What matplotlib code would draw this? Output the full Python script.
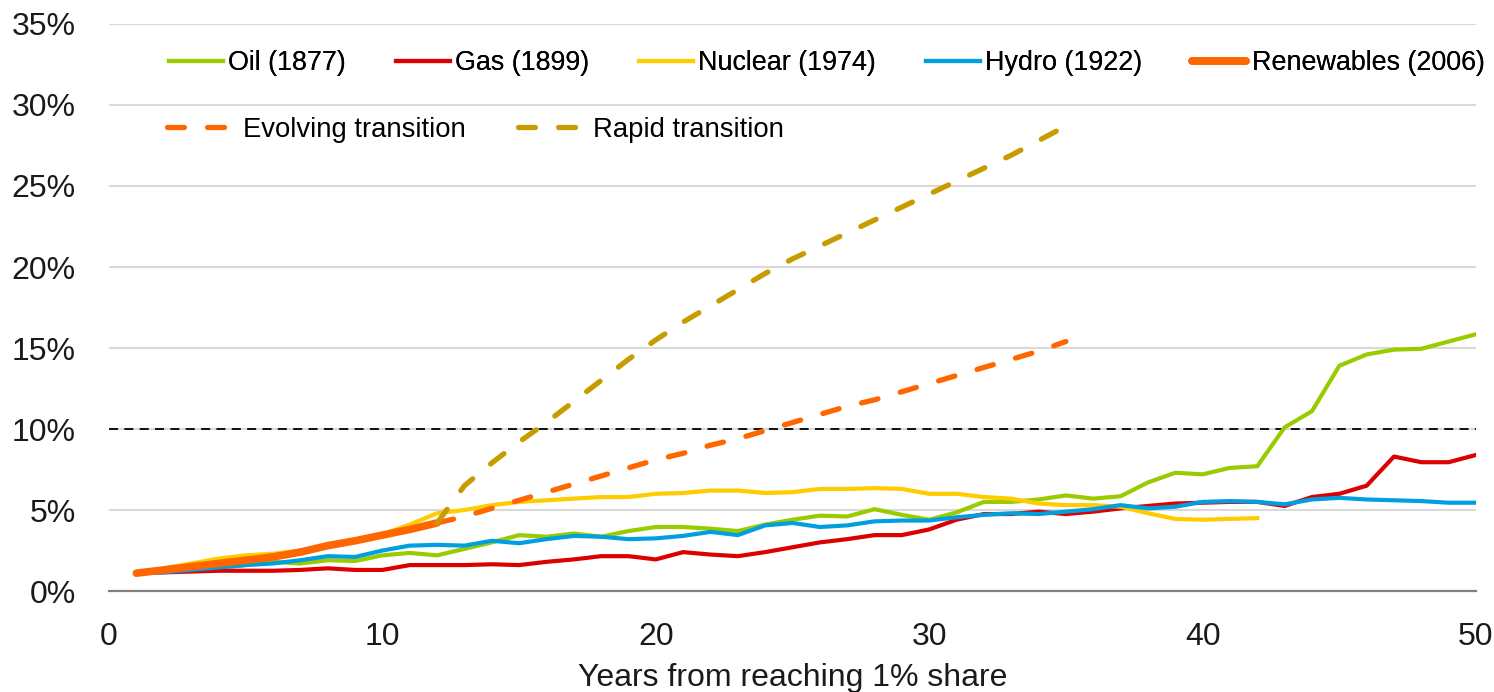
import matplotlib
matplotlib.use('Agg')
import matplotlib.pyplot as plt

# years since each source reached 1% share
years = list(range(1, 51))

oil = [1.1, 1.2, 1.3, 1.45, 1.6, 1.8, 1.7, 1.9, 1.85, 2.2,
       2.35, 2.2, 2.6, 3.0, 3.45, 3.35, 3.55, 3.35, 3.7, 3.95,
       3.95, 3.85, 3.7, 4.1, 4.4, 4.65, 4.6, 5.05, 4.7, 4.4,
       4.85, 5.5, 5.5, 5.65, 5.9, 5.7, 5.85, 6.7, 7.3, 7.2,
       7.6, 7.7, 10.1, 11.1, 13.9, 14.6, 14.9, 14.95, 15.4, 15.85]
gas = [1.1, 1.15, 1.2, 1.25, 1.25, 1.25, 1.3, 1.4, 1.3, 1.3,
       1.6, 1.6, 1.6, 1.65, 1.6, 1.8, 1.95, 2.15, 2.15, 1.95,
       2.4, 2.25, 2.15, 2.4, 2.7, 3.0, 3.2, 3.45, 3.45, 3.8,
       4.4, 4.75, 4.75, 4.9, 4.75, 4.9, 5.1, 5.25, 5.4, 5.45,
       5.5, 5.5, 5.25, 5.8, 6.0, 6.5, 8.3, 7.95, 7.95, 8.4]
nuclear = [1.1, 1.4, 1.7, 2.0, 2.2, 2.3, 2.5, 2.8, 3.1, 3.5,
           4.1, 4.8, 5.0, 5.3, 5.5, 5.6, 5.7, 5.8, 5.8, 6.0,
           6.05, 6.2, 6.2, 6.05, 6.1, 6.3, 6.3, 6.35, 6.3, 6.0,
           6.0, 5.8, 5.7, 5.4, 5.3, 5.3, 5.2, 4.8, 4.45, 4.4,
           4.45, 4.5]
hydro = [1.1, 1.15, 1.3, 1.45, 1.6, 1.7, 1.9, 2.15, 2.1, 2.5,
         2.8, 2.85, 2.8, 3.1, 2.95, 3.2, 3.4, 3.35, 3.2, 3.25,
         3.4, 3.65, 3.45, 4.05, 4.2, 3.95, 4.05, 4.3, 4.35, 4.35,
         4.55, 4.7, 4.8, 4.75, 4.9, 5.05, 5.3, 5.1, 5.2, 5.5,
         5.55, 5.5, 5.35, 5.65, 5.75, 5.65, 5.6, 5.55, 5.45, 5.45]
renewables = [1.1, 1.3, 1.5, 1.7, 1.9, 2.1, 2.4, 2.8, 3.1, 3.45, 3.8, 4.2]

# scenario projections, years 12..35
proj_years = list(range(12, 36))
evolving = [4.2, 4.6, 5.1, 5.6, 6.1, 6.6, 7.1, 7.6, 8.1, 8.5, 9.0, 9.4,
            9.9, 10.4, 10.9, 11.4, 11.8, 12.3, 12.8, 13.3, 13.8, 14.3, 14.8, 15.4]
rapid = [4.2, 6.5, 7.9, 9.2, 10.4, 11.7, 13.0, 14.3, 15.5, 16.6, 17.6, 18.6,
         19.6, 20.5, 21.3, 22.1, 22.9, 23.7, 24.5, 25.3, 26.1, 26.9, 27.8, 28.7]

threshold = 10

plt.rcParams['font.family'] = ['Liberation Sans', 'DejaVu Sans']

fig = plt.figure(figsize=(14.94, 6.92), dpi=100)
ax = fig.add_axes([0.07296, 0.14595, 0.91499, 0.81937])

lw = 3.0
ax.plot(years, oil, color='#99cc00', lw=lw, label='Oil (1877)')
ax.plot(years, gas, color='#dd0000', lw=lw, label='Gas (1899)')
ax.plot(years[:len(nuclear)], nuclear, color='#ffcc00', lw=lw, label='Nuclear (1974)')
ax.plot(years, hydro, color='#00a0e0', lw=lw, label='Hydro (1922)')
ax.plot(years[:len(renewables)], renewables, color='#ff6600', lw=5.5,
        solid_capstyle='round', label='Renewables (2006)')
ax.plot(proj_years, evolving, color='#ff6600', lw=3.8, dash_capstyle='round',
        dashes=(3.2, 4.4), label='Evolving transition')
ax.plot(proj_years, rapid, color='#c89b00', lw=3.8, dash_capstyle='round',
        dashes=(3.2, 4.4), label='Rapid transition')

ax.axhline(threshold, color='black', lw=1.3, dashes=(5, 3.5), zorder=1.5)

ax.set_xlim(0, 50)
ax.set_ylim(0, 35)
ax.set_xticks(range(0, 51, 10))
ax.set_yticks(range(0, 36, 5))
ax.set_yticklabels(['{}%'.format(v) for v in range(0, 36, 5)])
ax.grid(axis='y', color='#d9d9d9', lw=1.5)
ax.set_axisbelow(True)
for s in ['top', 'right', 'left']:
    ax.spines[s].set_visible(False)
ax.spines['bottom'].set_color('#808080')
ax.spines['bottom'].set_linewidth(1.6)
ax.tick_params(axis='both', length=0, labelsize=23, colors='#1a1a1a')
ax.tick_params(axis='y', pad=24)
ax.tick_params(axis='x', pad=22)
ax.set_xlabel('Years from reaching 1% share', fontsize=23, color='#1a1a1a', labelpad=8)

handles, labels = ax.get_legend_handles_labels()
leg1 = fig.legend(handles[:5], labels[:5], ncol=5, loc='center left',
                  bbox_to_anchor=(169 / 1494, 1 - 63 / 692), frameon=False,
                  fontsize=19.4, handlelength=2.0, handletextpad=0.2,
                  columnspacing=1.85, borderpad=0, borderaxespad=0)
leg2 = fig.legend(handles[5:], labels[5:], ncol=2, loc='center left',
                  bbox_to_anchor=(167 / 1494, 1 - 130 / 692), frameon=False,
                  fontsize=19.8, handlelength=2.25, handletextpad=0.5,
                  columnspacing=1.9, borderpad=0, borderaxespad=0)
fig.add_artist(leg1)

fig.savefig('out.png', dpi=100)
